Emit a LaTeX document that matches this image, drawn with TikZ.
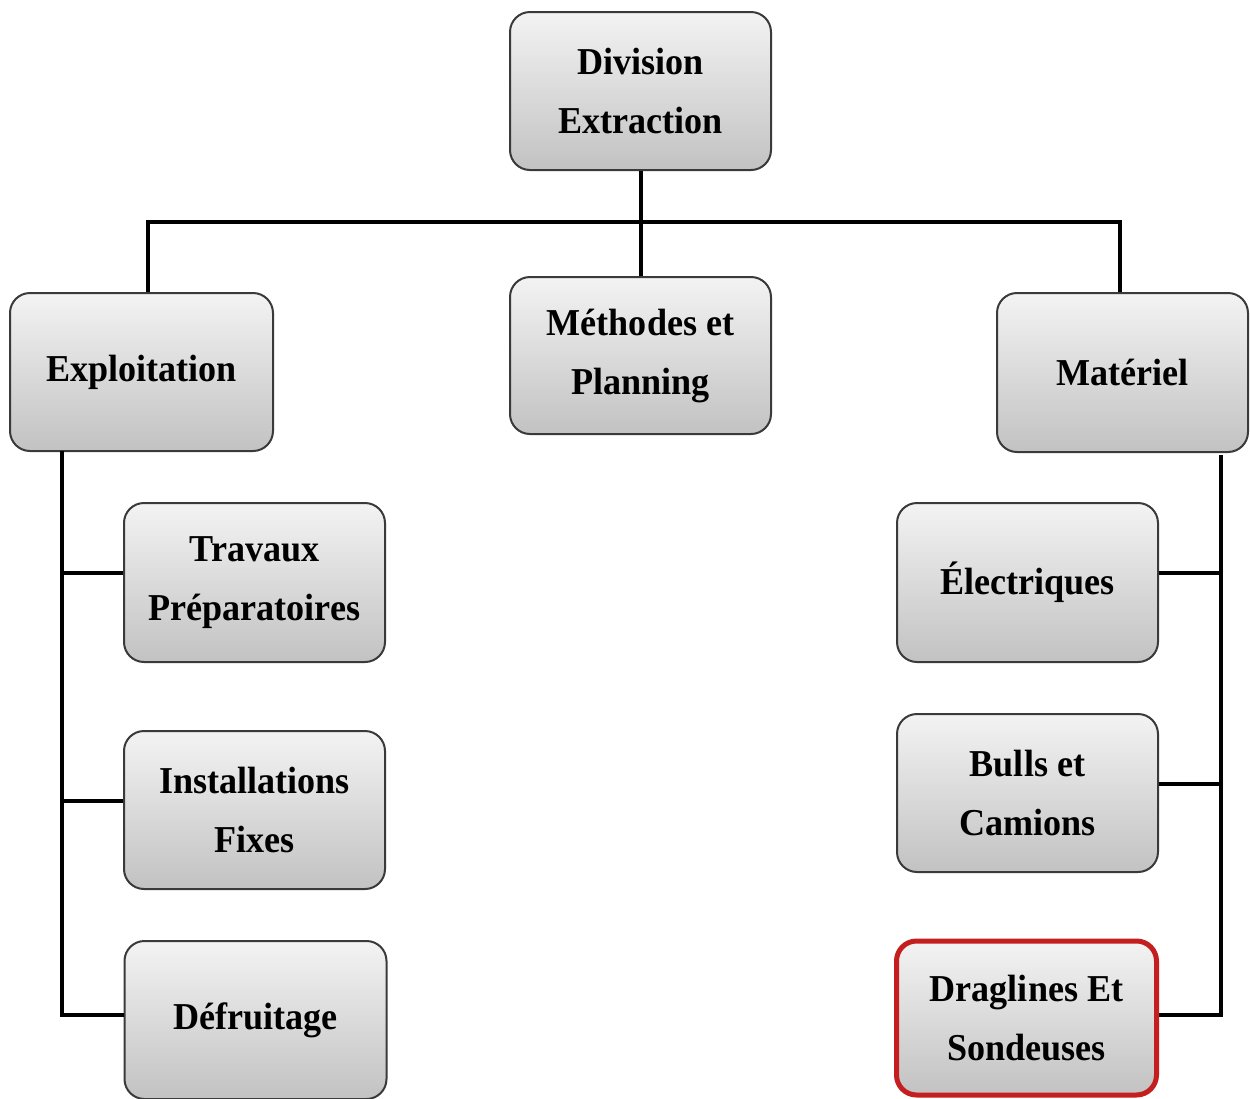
\documentclass[tikz,border=0pt]{standalone}
\usepackage{fontspec}
\setmainfont{Liberation Serif}[FakeStretch=0.95]
\definecolor{boxtop}{HTML}{F3F3F3}
\definecolor{boxbot}{HTML}{C2C2C2}
\definecolor{boxline}{HTML}{3A3A3A}
\definecolor{markred}{HTML}{C41E1E}
\tikzset{
  unit/.style={rectangle, rounded corners=10pt, draw=boxline, line width=1pt,
    top color=boxtop, bottom color=boxbot, align=center, inner sep=0pt,
    font=\fontsize{19pt}{29.5pt}\selectfont\bfseries},
  link/.style={line width=2pt, black}
}
\begin{document}
\begin{tikzpicture}[x=0.5pt,y=-0.5pt]
    \useasboundingbox (0,0) rectangle (1250,1099);
    \node[unit, minimum width=130.5pt, minimum height=79pt] (div) at (640.5,91) {Division\\Extraction};
    \node[unit, minimum width=131.5pt, minimum height=79pt] (expl) at (141.5,372) {Exploitation};
    \node[unit, minimum width=130.5pt, minimum height=78.5pt] (meth) at (640.5,355.5) {Méthodes et\\Planning};
    \node[unit, minimum width=125.5pt, minimum height=79.5pt] (mat) at (1122.5,372.5) {Matériel};
    \node[unit, minimum width=130.5pt, minimum height=79.5pt] (trav) at (254.5,582.5) {Travaux\\Préparatoires};
    \node[unit, minimum width=130.5pt, minimum height=79pt] (inst) at (254.5,810) {Installations\\Fixes};
    \node[unit, minimum width=131pt, minimum height=79pt] (def) at (255.5,1020) {Défruitage};
    \node[unit, minimum width=130.5pt, minimum height=79.5pt] (elec) at (1027.5,582.5) {Électriques};
    \node[unit, minimum width=130.5pt, minimum height=79pt] (bull) at (1027.5,793) {Bulls et\\Camions};
    \node[unit, draw=markred, line width=2.5pt, minimum width=130pt, minimum height=77pt] (drag) at (1026.5,1018) {Draglines Et\\Sondeuses};
    \coordinate (bar) at (640.5,222);
    \coordinate (ltrunk) at (62,451);
    \coordinate (rtrunk) at (1221,455);
    \coordinate (travj) at ([yshift=5pt]trav.west);
    \coordinate (instj) at ([yshift=4.5pt]inst.west);
    \coordinate (defj) at ([yshift=2.5pt]def.west);
    \coordinate (elecj) at ([yshift=5pt]elec.east);
    \coordinate (bullj) at ([yshift=4.5pt]bull.east);
    \coordinate (dragj) at ([yshift=1.5pt]drag.east);
    \draw[link] (div.south) -- (meth.north);
    \draw[link] ([xshift=3.25pt]expl.north) |- (bar) -| ([xshift=-1.25pt]mat.north);
    \draw[link] (ltrunk) -- (ltrunk |- defj) -- (defj);
    \draw[link] (ltrunk |- travj) -- (travj);
    \draw[link] (ltrunk |- instj) -- (instj);
    \draw[link] (rtrunk) -- (rtrunk |- dragj) -- (dragj);
    \draw[link] (rtrunk |- elecj) -- (elecj);
    \draw[link] (rtrunk |- bullj) -- (bullj);
  \end{tikzpicture}
\end{document}
